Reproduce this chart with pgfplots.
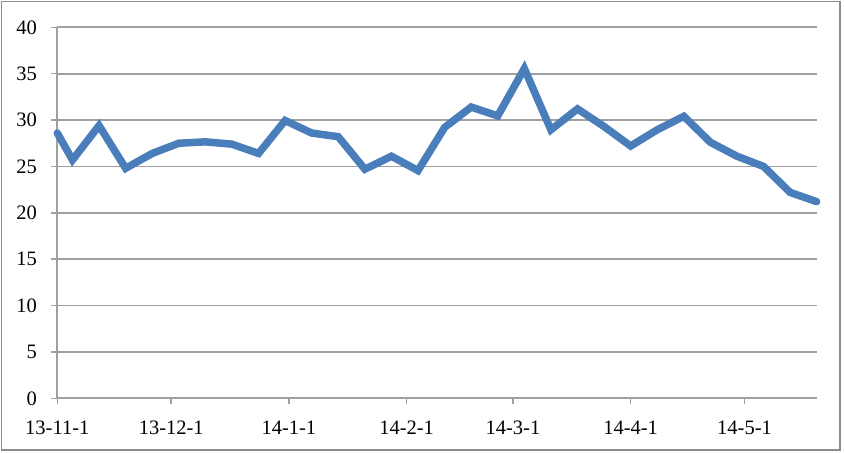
\documentclass[border=0pt]{standalone}
\usepackage{fontspec}
\setmainfont{Liberation Serif}
\usepackage{pgfplots}
\pgfplotsset{compat=1.18}
\usetikzlibrary{calc}
\definecolor{lineblue}{HTML}{4A7EBB}
\definecolor{gridgray}{HTML}{A0A0A0}
\definecolor{bordergray}{HTML}{8C8C8C}
\begin{document}
\begin{tikzpicture}
\begin{axis}[name=ax, at={(0,0)}, anchor=south west,
  scale only axis, width=759.4pt, height=371pt,
  xmin=0, xmax=200, ymin=0, ymax=40,
  axis lines=left,
  axis line style={draw=gridgray, line width=1.8pt, -},
  ytick={0,5,...,40},
  xtick={0,30,61,92,120,151,181},
  xticklabels={13-11-1,13-12-1,14-1-1,14-2-1,14-3-1,14-4-1,14-5-1},
  ymajorgrids, grid style={gridgray, line width=1.8pt},
  tick style={gridgray, line width=1.5pt}, tick align=outside, major tick length=6pt,
  /pgf/number format/assume math mode=true,
  yticklabel style={font=\fontsize{20.5}{22}\selectfont, xshift=-11pt},
  xticklabel style={font=\fontsize{20.5}{22}\selectfont, yshift=-13pt},
  clip=false,
]
\addplot[lineblue, line width=7.5pt, line cap=round, mark=none] coordinates {
(0,28.6) (4,25.7) (11,29.4) (18,24.8) (25,26.4) (32,27.5) (39,27.65) (46,27.4)
(53,26.4) (60,29.95) (67,28.6) (74,28.2) (81,24.7) (88,26.1) (95,24.55)
(102,29.2) (109,31.4) (116,30.45) (123,35.55) (130,28.95) (137,31.2) (144,29.3)
(151,27.2) (158,28.95) (165,30.4) (172,27.6) (179,26.1) (186,25.0) (193,22.2) (200,21.2)
};
\end{axis}
\path[use as bounding box] ($(ax.south west)+(-57.3pt,-53.7pt)$) rectangle ++(845pt,452pt);
\draw[bordergray, line width=1.5pt] ($(ax.south west)+(-55.6pt,-51.7pt)$) rectangle ($(ax.south west)+(782.7pt,396.8pt)$);
\end{tikzpicture}
\end{document}
